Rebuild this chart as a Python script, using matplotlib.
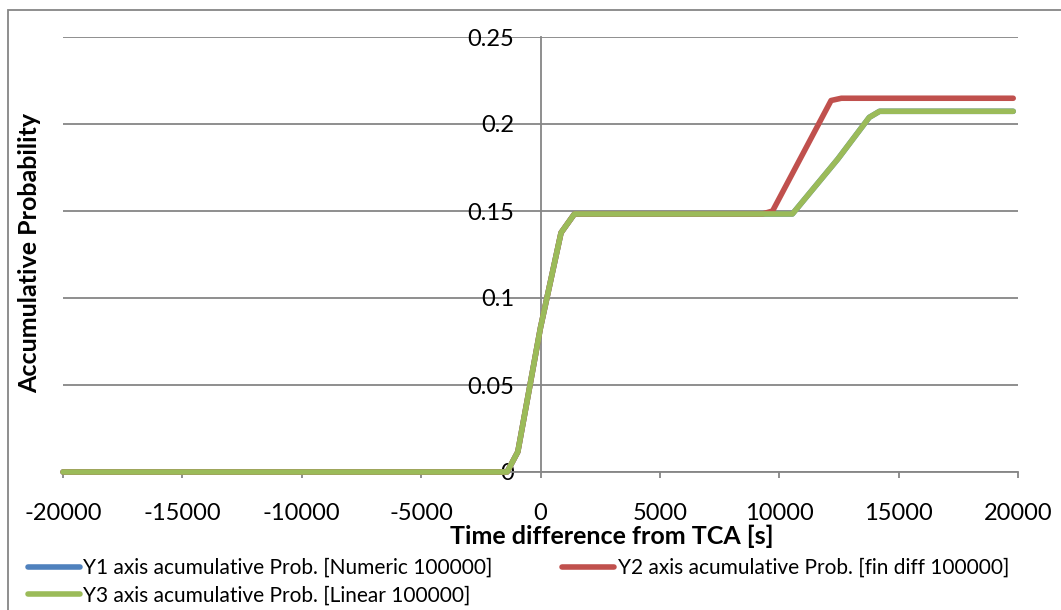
import matplotlib
matplotlib.use("Agg")
import matplotlib.pyplot as plt
from matplotlib.patches import Rectangle

# Accumulative probability vs. time offset from TCA
t_y1 = [-20000, -1400, -950, 0, 860, 1420, 10550, 12450, 13770, 14200, 19800]
p_y1 = [0.0, 0.0, 0.0116, 0.083, 0.1375, 0.1483, 0.1483, 0.1798, 0.2038, 0.2073, 0.2073]

t_y2 = [-20000, -1400, -950, 0, 860, 1420, 9300, 9720, 12170, 12600, 19800]
p_y2 = [0.0, 0.0, 0.0116, 0.083, 0.1375, 0.1483, 0.1483, 0.1500, 0.2135, 0.2148, 0.2148]

t_y3 = [-20000, -1400, -950, 0, 860, 1420, 10550, 12450, 13770, 14200, 19800]
p_y3 = [0.0, 0.0, 0.0116, 0.083, 0.1375, 0.1483, 0.1483, 0.1798, 0.2038, 0.2073, 0.2073]

labels = [
    "Y1 axis acumulative Prob. [Numeric 100000]",
    "Y2 axis acumulative Prob. [fin diff 100000]",
    "Y3 axis acumulative Prob. [Linear 100000]",
]
x_ticks = [-20000, -15000, -10000, -5000, 0, 5000, 10000, 15000, 20000]
y_ticks = [0, 0.05, 0.1, 0.15, 0.2, 0.25]
y_tick_labels = ["0", "0.05", "0.1", "0.15", "0.2", "0.25"]

FONT = "Lato"
GRID = "#868686"
W, H = 1061, 610

plt.rcParams["font.family"] = [FONT, "DejaVu Sans"]

fig = plt.figure(figsize=(W / 100, H / 100), dpi=100)
fig.patch.set_facecolor("white")

# chart-area border
fig.patches.append(Rectangle((8 / W, -0.1), 1.2, (H - 10) / H + 0.1,
                             transform=fig.transFigure, fill=False,
                             edgecolor=GRID, linewidth=1.3))

ax = fig.add_axes([63 / W, (H - 472) / H, (1018 - 63) / W, (472 - 37) / H])
ax.set_xlim(-20000, 20000)
ax.set_ylim(0, 0.25)

for s in ("top", "right"):
    ax.spines[s].set_visible(False)
ax.spines["left"].set_position(("data", 0))
ax.spines["left"].set_color(GRID)
ax.spines["left"].set_linewidth(1.3)
ax.spines["bottom"].set_color(GRID)
ax.spines["bottom"].set_linewidth(1.3)

ax.set_yticks(y_ticks)
ax.set_yticklabels(y_tick_labels)
ax.set_xticks(x_ticks)
ax.set_xticklabels([str(v) for v in x_ticks])
ax.yaxis.grid(True, color=GRID, linewidth=1.3)
ax.set_axisbelow(True)
ax.tick_params(axis="x", direction="out", length=4.5, width=1.3, color=GRID,
               labelsize=17, pad=18)
ax.tick_params(axis="y", direction="out", length=0, labelsize=17, pad=19)

lw = 4.0
l1, = ax.plot(t_y1, p_y1, color="#4F81BD", lw=lw, solid_capstyle="round",
              solid_joinstyle="round", clip_on=False, zorder=3)
l2, = ax.plot(t_y2, p_y2, color="#C0504D", lw=lw, solid_capstyle="round",
              solid_joinstyle="round", clip_on=False, zorder=4)
l3, = ax.plot(t_y3, p_y3, color="#9BBB59", lw=lw, solid_capstyle="round",
              solid_joinstyle="round", clip_on=False, zorder=5)

fig.text(612 / W, 1 - 536 / H, "Time difference from TCA [s]", ha="center",
         va="center", fontsize=18, fontweight="bold")
fig.text(30 / W, 1 - 253 / H, "Accumulative Probability", ha="center",
         va="center", rotation=90, fontsize=18, fontweight="bold")

fig.legend([l1, l3, l2], [labels[0], labels[2], labels[1]], ncol=2,
           loc="upper left", bbox_to_anchor=(28 / W, 1 - 558 / H),
           frameon=False, fontsize=15, handlelength=2.5, handletextpad=0.15,
           columnspacing=3.35, labelspacing=0.35, borderpad=0, borderaxespad=0)

fig.savefig("out.png", dpi=100)
